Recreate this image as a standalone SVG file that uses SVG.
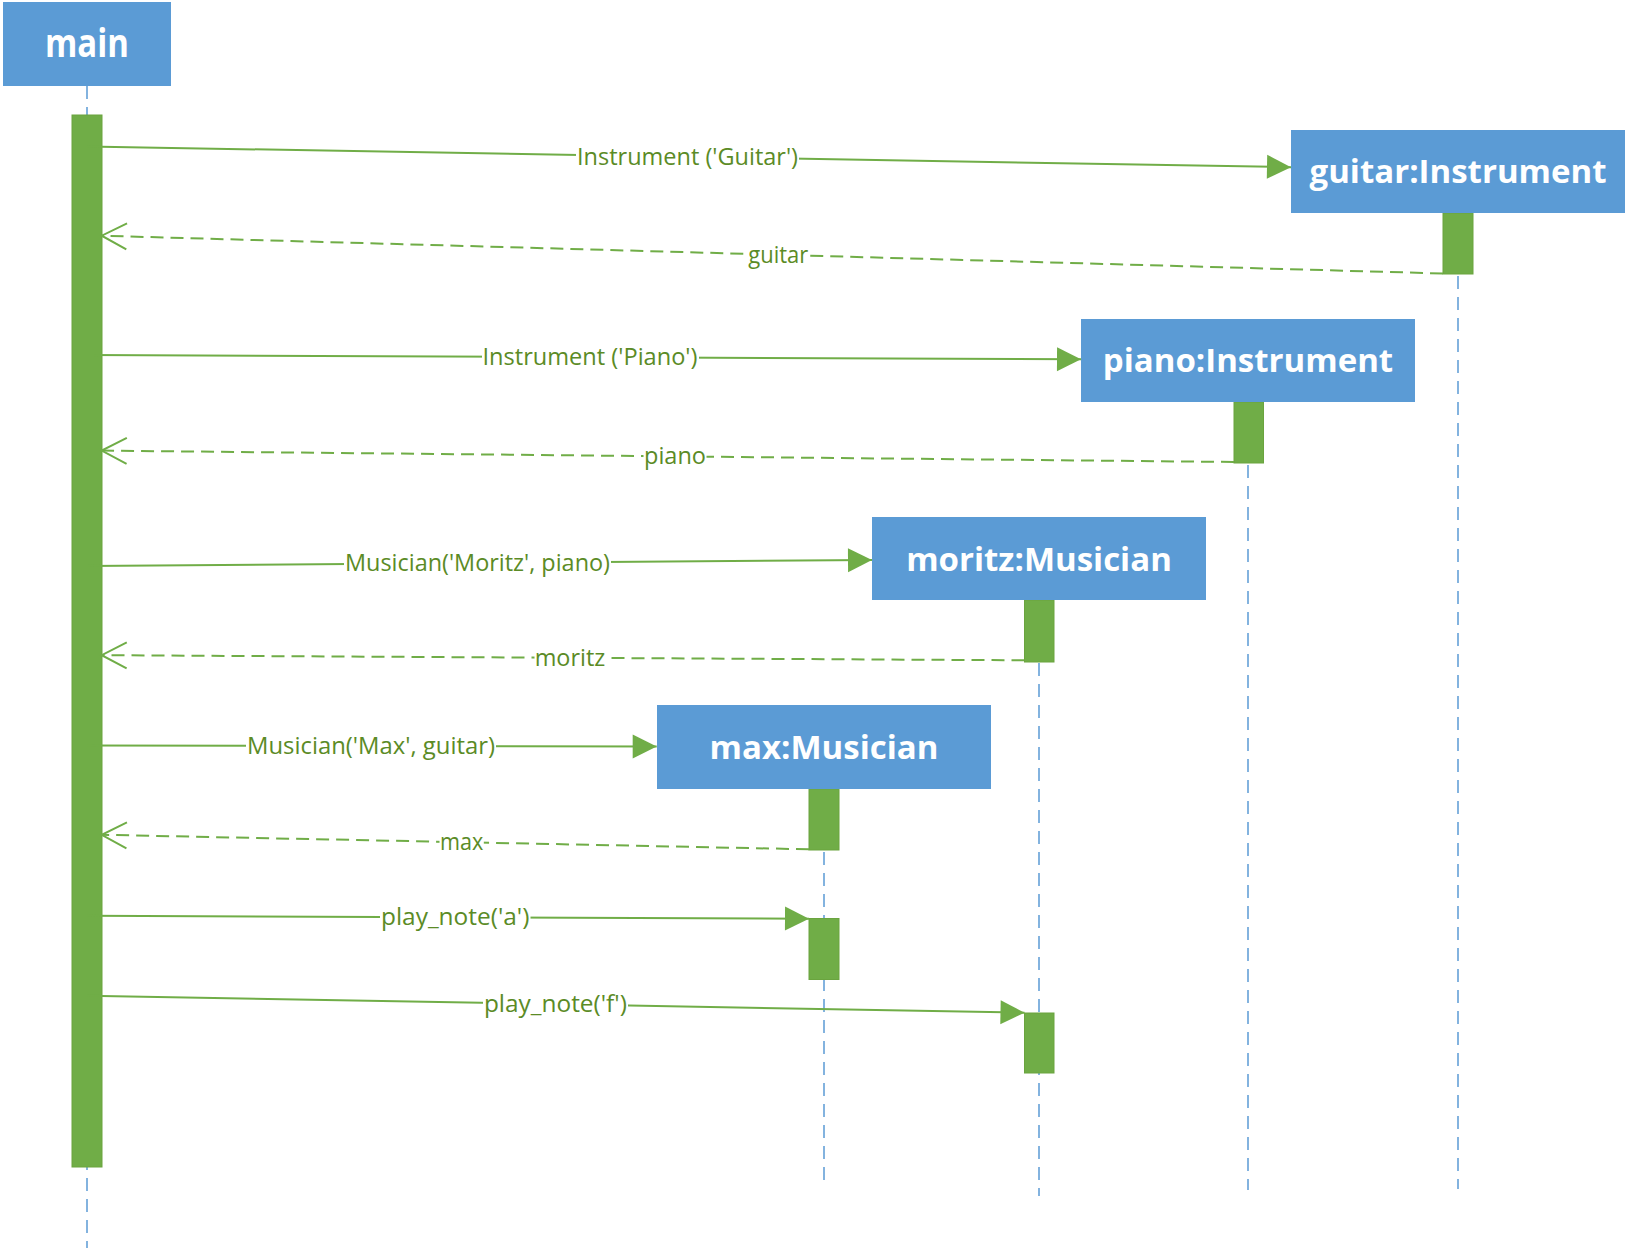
<svg xmlns="http://www.w3.org/2000/svg" width="1628" height="1248" viewBox="0 0 1628 1248">
<style>
.box{fill:#5B9BD5;}
.title{font-family:"Open Sans","Noto Sans",sans-serif;font-weight:bold;font-size:33px;fill:#ffffff;text-anchor:middle;}
.title.big{font-size:39px;}
.life{stroke:#5B9BD5;stroke-width:1.5;stroke-dasharray:13 8;fill:none;}
.act{fill:#70AD47;stroke:#6aa43f;stroke-width:1;}
.msg{stroke:#70AD47;stroke-width:2;fill:none;marker-end:url(#filled);}
.ret{stroke:#70AD47;stroke-width:2;fill:none;stroke-dasharray:13 7;marker-end:url(#open);}
.lbg{fill:#ffffff;}
.lbl{font-family:"Open Sans","Noto Sans",sans-serif;font-size:23px;fill:#5B8B26;text-anchor:middle;}
</style>
<defs>
<marker id="filled" markerUnits="userSpaceOnUse" markerWidth="26" markerHeight="26" refX="24" refY="12" orient="auto" overflow="visible">
<path d="M0,0 L24,12 L0,24 Z" fill="#70AD47"/>
</marker>
<marker id="open" markerUnits="userSpaceOnUse" markerWidth="30" markerHeight="30" refX="26" refY="14" orient="auto" overflow="visible">
<path d="M1,1 L26,14 L1,27" fill="none" stroke="#70AD47" stroke-width="2"/>
</marker>
</defs>
<rect width="1628" height="1248" fill="#ffffff"/>

<g id="main">
<line class="life" x1="87" y1="86" x2="87" y2="1248"/>
<rect class="act" x="72" y="115" width="30" height="1052"/>
<rect class="box" x="3" y="2" width="168" height="84"/>
<text class="title big" x="87" y="57" textLength="84" lengthAdjust="spacingAndGlyphs">main</text>
</g>

<g id="guitar">
<line class="life" x1="1458" y1="213" x2="1458" y2="1189"/>
<rect class="act" x="1443" y="213" width="30" height="61"/>
<rect class="box" x="1291" y="130" width="334" height="83"/>
<text class="title" x="1458" y="183.3">guitar:Instrument</text>
</g>

<g id="piano">
<line class="life" x1="1248" y1="402" x2="1248" y2="1190"/>
<rect class="act" x="1234" y="402" width="29.5" height="61"/>
<rect class="box" x="1081" y="319" width="334" height="83"/>
<text class="title" x="1248" y="372">piano:Instrument</text>
</g>

<g id="moritz">
<line class="life" x1="1039" y1="600" x2="1039" y2="1196"/>
<rect class="act" x="1024.5" y="600" width="29.5" height="62"/>
<rect class="act" x="1024.5" y="1013" width="29.5" height="60"/>
<rect class="box" x="872" y="517" width="334" height="83"/>
<text class="title" x="1039" y="571">moritz:Musician</text>
</g>

<g id="max">
<line class="life" x1="824" y1="789" x2="824" y2="1182"/>
<rect class="act" x="809" y="789" width="30" height="61"/>
<rect class="act" x="809" y="918.5" width="30" height="61"/>
<rect class="box" x="657" y="705" width="334" height="84"/>
<text class="title" x="824" y="759">max:Musician</text>
</g>

<g id="connectors">
<line class="msg" x1="87" y1="146.5" x2="1291" y2="167.2"/>
<rect class="lbg" x="576" y="144" width="223" height="26"/>
<text class="lbl" x="687.5" y="165" textLength="221" lengthAdjust="spacingAndGlyphs">Instrument ('Guitar')</text>

<line class="ret" x1="1443" y1="273.5" x2="101.7" y2="235.7"/>
<rect class="lbg" x="747.5" y="242" width="62" height="26"/>
<text class="lbl" x="778.3" y="262.5" textLength="60" lengthAdjust="spacingAndGlyphs">guitar</text>

<line class="msg" x1="87" y1="355" x2="1081" y2="359.3"/>
<rect class="lbg" x="482" y="344" width="217" height="26"/>
<text class="lbl" x="590" y="365.2" textLength="215" lengthAdjust="spacingAndGlyphs">Instrument ('Piano')</text>

<line class="ret" x1="1234" y1="462" x2="101.7" y2="450.6"/>
<rect class="lbg" x="643.5" y="443.5" width="63" height="26"/>
<text class="lbl" x="675" y="464.4" textLength="62" lengthAdjust="spacingAndGlyphs">piano</text>

<line class="msg" x1="87" y1="565.9" x2="872" y2="560"/>
<rect class="lbg" x="344" y="550" width="267" height="26"/>
<text class="lbl" x="477.5" y="570.5" textLength="265" lengthAdjust="spacingAndGlyphs">Musician('Moritz', piano)</text>

<line class="ret" x1="1024.5" y1="660.3" x2="101.7" y2="655.2"/>
<rect class="lbg" x="534.5" y="645" width="71" height="26"/>
<text class="lbl" x="570" y="665.8" textLength="70.6" lengthAdjust="spacingAndGlyphs">moritz</text>

<line class="msg" x1="87" y1="745.5" x2="656.7" y2="746.5"/>
<rect class="lbg" x="246" y="733" width="250" height="26"/>
<text class="lbl" x="371" y="754" textLength="248" lengthAdjust="spacingAndGlyphs">Musician('Max', guitar)</text>

<line class="ret" x1="809" y1="849.3" x2="101.7" y2="834.8"/>
<rect class="lbg" x="439.5" y="829" width="44.3" height="26"/>
<text class="lbl" x="461.7" y="850" textLength="43.3" lengthAdjust="spacingAndGlyphs">max</text>

<line class="msg" x1="87" y1="915.8" x2="809" y2="918.7"/>
<rect class="lbg" x="380" y="904.5" width="150.5" height="26"/>
<text class="lbl" x="455.2" y="925" textLength="148.5" lengthAdjust="spacingAndGlyphs">play_note('a')</text>

<line class="msg" x1="87" y1="995.7" x2="1024.5" y2="1012.7"/>
<rect class="lbg" x="483" y="991" width="145" height="26"/>
<text class="lbl" x="555.4" y="1012" textLength="143" lengthAdjust="spacingAndGlyphs">play_note('f')</text>
</g>
</svg>
